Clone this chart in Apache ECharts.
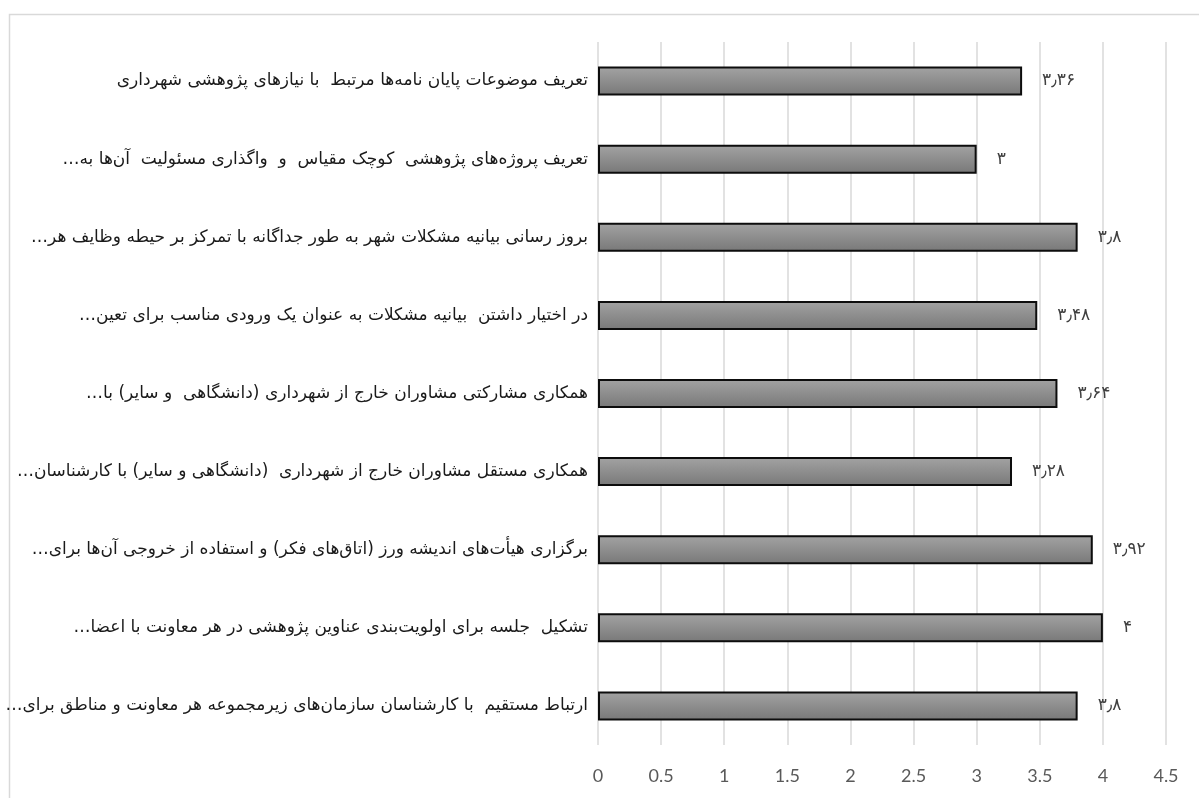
<!DOCTYPE html>
<html>
<head>
<meta charset="utf-8">
<script src="https://cdn.jsdelivr.net/npm/echarts@6/dist/echarts.min.js"></script>
<style>
html,body{margin:0;padding:0;background:#fff;}
#chart{width:1199px;height:798px;}
</style>
</head>
<body>
<div id="chart"></div>
<script>
const categories = [
  'تعریف موضوعات پایان نامه‌ها مرتبط  با نیازهای پژوهشی شهرداری',
  'تعریف پروژه‌های پژوهشی  کوچک مقیاس  و  واگذاری مسئولیت  آن‌ها به…',
  'بروز رسانی بیانیه مشکلات شهر به طور جداگانه با تمرکز بر حیطه وظایف هر…',
  'در اختیار داشتن  بیانیه مشکلات به عنوان یک ورودی مناسب برای تعین…',
  'همکاری مشارکتی مشاوران خارج از شهرداری (دانشگاهی  و سایر) با…',
  'همکاری مستقل مشاوران خارج از شهرداری  (دانشگاهی و سایر) با کارشناسان…',
  'برگزاری هیأت‌های اندیشه ورز (اتاق‌های فکر) و استفاده از خروجی آن‌ها برای…',
  'تشکیل  جلسه برای اولویت‌بندی عناوین پژوهشی در هر معاونت با اعضا…',
  'ارتباط مستقیم  با کارشناسان سازمان‌های زیرمجموعه هر معاونت و مناطق برای…'
];
const values = [3.36, 3, 3.8, 3.48, 3.64, 3.28, 3.92, 4, 3.8];
const xTicks = [0, 0.5, 1, 1.5, 2, 2.5, 3, 3.5, 4, 4.5];

const faDigits = '۰۱۲۳۴۵۶۷۸۹';
function toFa(v){
  return String(v).replace('.', '٫').replace(/[0-9]/g, d => faDigits[+d]);
}

const chart = echarts.init(document.getElementById('chart'), null, {renderer:'canvas'});
chart.setOption({
  animation: false,
  backgroundColor: '#ffffff',
  graphic: [{
    type: 'rect',
    shape: {x: 9.5, y: 14.5, width: 1300, height: 900},
    style: {fill: 'none', stroke: '#d9d9d9', lineWidth: 1.5},
    silent: true
  }],
  grid: {left: 598, right: 33, top: 42, bottom: 53, containLabel: false},
  xAxis: {
    type: 'value',
    min: 0, max: 4.5, interval: 0.5,
    axisLine: {show: false},
    axisTick: {show: false},
    splitLine: {show: true, lineStyle: {color: '#d9d9d9', width: 1.5}},
    axisLabel: {
      color: '#595959', fontSize: 18, fontFamily: 'Lato', margin: 22,
      formatter: v => { const t = xTicks.find(x => Math.abs(x - v) < 1e-9); return t === undefined ? '' : String(t); }
    }
  },
  yAxis: {
    type: 'category',
    data: categories,
    inverse: true,
    axisLine: {show: false},
    axisTick: {show: false},
    axisLabel: {
      color: '#1a1a1a', fontSize: 17, fontFamily: 'DejaVu Sans', margin: 10,
      formatter: s => '\u200F' + s + '\u200F'
    }
  },
  series: [{
    type: 'bar',
    data: values,
    barWidth: 29,
    itemStyle: {
      color: new echarts.graphic.LinearGradient(0, 0, 0, 1, [
        {offset: 0, color: '#a3a3a3'},
        {offset: 1, color: '#787878'}
      ]),
      borderColor: '#0d0d0d',
      borderWidth: 2
    },
    label: {
      show: true,
      position: 'right',
      distance: 20,
      color: '#404040',
      fontSize: 17,
      fontFamily: 'DejaVu Sans',
      formatter: p => toFa(p.value)
    }
  }]
});
</script>
</body>
</html>
